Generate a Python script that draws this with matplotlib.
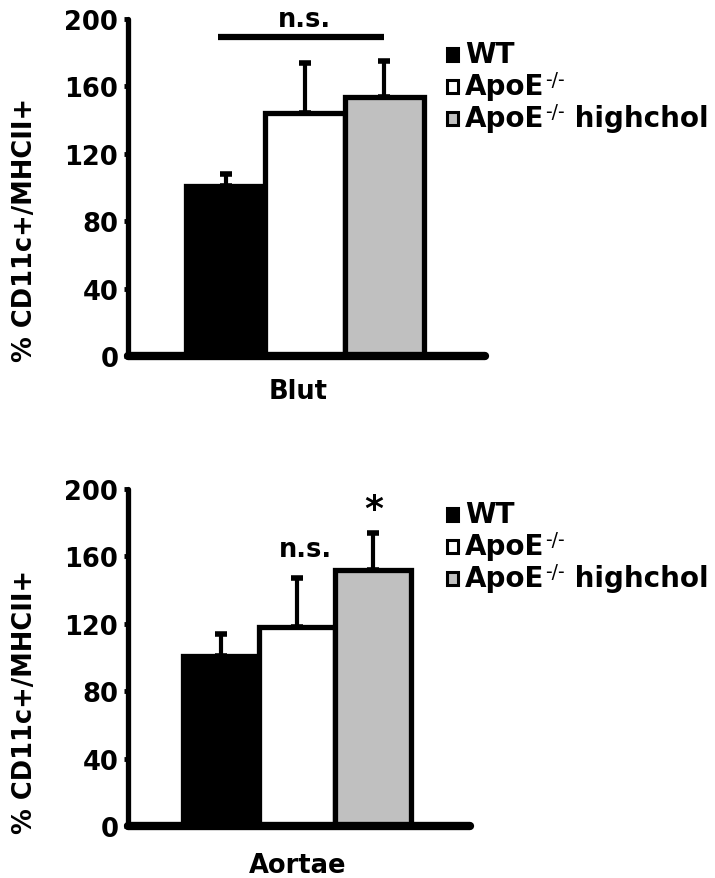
import matplotlib
matplotlib.use("Agg")
import matplotlib.pyplot as plt
from matplotlib.patches import Rectangle

plt.rcParams['font.family'] = ['DejaVu Sans']
plt.rcParams['font.weight'] = 'bold'

# legend entries: (base name, superscript, suffix)
groups = [("WT", "", ""), ("ApoE", "-/-", ""), ("ApoE", "-/-", " highchol")]
colors = ["#000000", "#ffffff", "#c0c0c0"]
yticks = [0, 40, 80, 120, 160, 200]

blut_mean = [101, 144, 154]
blut_err = [7, 30, 21]
aortae_mean = [101, 118, 152]
aortae_err = [13, 29, 22]

W, H = 715, 879
fig = plt.figure(figsize=(W / 100, H / 100), dpi=100)
renderer = fig.canvas.get_renderer()


def px_rect(left, top_y, right, bottom_y):
    return [left / W, 1 - bottom_y / H, (right - left) / W, (bottom_y - top_y) / H]


def panel(rect, means, errs, xlabel, xlabel_y, ylabel_y):
    ax = fig.add_axes(rect)
    x = list(range(len(means)))
    ax.bar(x, means, width=1.0, color=colors, edgecolor="black",
           linewidth=3.8, zorder=2)
    ax.errorbar(x, means, yerr=[[0] * len(errs), errs], fmt="none",
                ecolor="black", elinewidth=3, capsize=4, capthick=4, zorder=1)
    ax.set_xlim(-1.23, 3.27)
    ax.set_ylim(0, 200)
    ax.set_yticks(yticks)
    ax.set_xticks([])
    for s in ("top", "right"):
        ax.spines[s].set_visible(False)
    ax.spines["left"].set_linewidth(3.8)
    ax.spines["bottom"].set_linewidth(6)
    ax.spines["left"].set_capstyle("round")
    ax.spines["bottom"].set_capstyle("round")
    ax.spines["bottom"].set_zorder(3)
    ax.tick_params(axis="y", direction="out", length=3, width=3.5, pad=4,
                   labelsize=18.5)
    for t in ax.get_yticklabels():
        t.set_fontweight("bold")
    ax.set_facecolor("none")
    fig.text(298 / W, 1 - xlabel_y / H, xlabel, ha="center", va="center",
             fontsize=18.5, fontweight="bold")
    fig.text(25 / W, 1 - ylabel_y / H, "% CD11c+/MHCII+", rotation=90,
             ha="center", va="center", fontsize=18.5, fontweight="bold")
    return ax


def legend(top_offset):
    rows = [55.5, 87.5, 119.5]
    for (base, sup, suffix), col, yc in zip(groups, colors, rows):
        yc = yc + top_offset
        fig.patches.append(Rectangle((447.5 / W, 1 - (yc + 6.5) / H), 10.5 / W, 13 / H,
                                     transform=fig.transFigure, facecolor=col,
                                     edgecolor="black", linewidth=2.2))
        base_y = yc + 7.5
        t = fig.text(465 / W, 1 - base_y / H, base, ha="left", va="baseline",
                     fontsize=20, fontweight="bold")
        x_end = t.get_window_extent(renderer).x1
        if sup:
            s = fig.text(x_end / W + 1 / W, 1 - (base_y - 9) / H, sup,
                         ha="left", va="baseline", fontsize=13.5,
                         fontweight="normal")
            x_end = s.get_window_extent(renderer).x1
        if suffix:
            fig.text(x_end / W, 1 - base_y / H, suffix, ha="left",
                     va="baseline", fontsize=20, fontweight="bold")


# Blood
ax1 = panel(px_rect(128, 20, 485, 357), blut_mean, blut_err, "Blut", 392, 230)
ax1.plot([-0.1, 2.0], [189.5, 189.5], color="black", lw=4.5, clip_on=False,
         solid_capstyle="butt")
ax1.text(1.0, 196, "n.s.", ha="center", va="baseline", fontsize=18.5,
         fontweight="bold")
legend(0)

# Aortae
ax2 = panel(px_rect(128, 490, 470, 827), aortae_mean, aortae_err, "Aortae", 866, 702)
ax2.text(1.1, 160, "n.s.", ha="center", va="baseline", fontsize=18.5,
         fontweight="bold")
ax2.text(2.0, 188, "*", ha="center", va="center", fontsize=26,
         fontweight="bold")
legend(460)

fig.savefig("out.png", dpi=100)
